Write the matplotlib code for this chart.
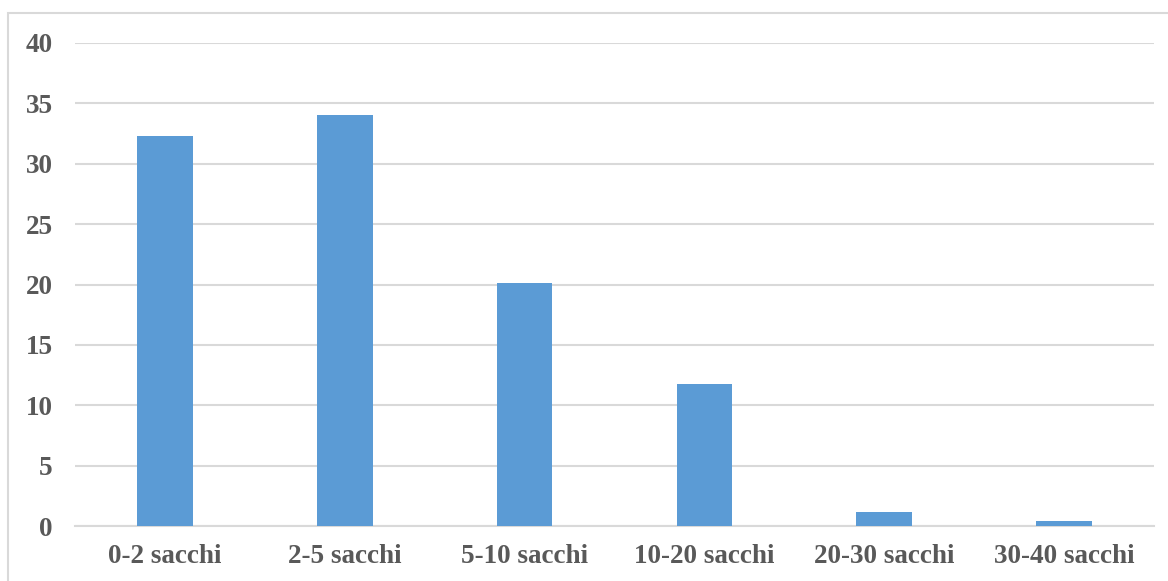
import matplotlib.pyplot as plt
from matplotlib.patches import Rectangle

categorie = ["0-2 sacchi", "2-5 sacchi", "5-10 sacchi", "10-20 sacchi", "20-30 sacchi", "30-40 sacchi"]
valori = [32.3, 34.05, 20.1, 11.75, 1.2, 0.4]
yticks = [0, 5, 10, 15, 20, 25, 30, 35, 40]

plt.rcParams['font.family'] = ['Liberation Serif', 'DejaVu Serif']
plt.rcParams['font.weight'] = 'bold'

fig = plt.figure(figsize=(11.68, 5.81), dpi=100)
ax = fig.add_axes([75/1168, 55/581, (1154-75)/1168, 483/581])

# cornice del grafico
fig.patches.append(Rectangle((8/1168, -0.1), 1.2, (581-13)/581 + 0.1, transform=fig.transFigure,
                             fill=False, edgecolor='#d9d9d9', linewidth=1.5))

x = range(len(categorie))
ax.bar(x, valori, width=0.31, color='#5b9bd5', zorder=3)

ax.set_xlim(-0.5, len(categorie) - 0.5)
ax.set_ylim(0, 40)
ax.set_yticks(yticks)
ax.set_xticks(list(x))
ax.set_xticklabels(categorie)
ax.grid(axis='y', color='#d9d9d9', linewidth=1.5, zorder=0)
for s in ['top', 'right', 'left']:
    ax.spines[s].set_visible(False)
ax.spines['bottom'].set_color('#d9d9d9')
ax.spines['bottom'].set_linewidth(1.5)
ax.tick_params(axis='both', length=0, labelsize=19.5, colors='#595959')
ax.tick_params(axis='y', pad=16)
ax.tick_params(axis='x', pad=13)
for lab in ax.get_xticklabels() + ax.get_yticklabels():
    lab.set_fontweight('bold')

fig.savefig('out.png', dpi=100)
